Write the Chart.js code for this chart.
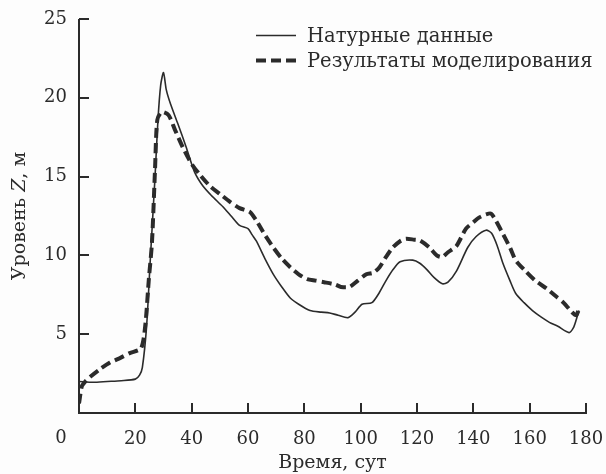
<!DOCTYPE html>
<html>
<head>
<meta charset="utf-8">
<script src="https://cdn.jsdelivr.net/npm/chart.js@4.4.1/dist/chart.umd.min.js"></script>
<style>
  html, body { margin: 0; padding: 0; background: #fdfdfd; }
  #wrap { width: 606px; height: 474px; }
</style>
</head>
<body>
<div id="wrap"><canvas id="levelChart"></canvas></div>
<script>
// натурные данные (сплошная)
const timeObs = [0, 5, 10, 15, 20, 21.5, 22.5, 24, 25.3, 27, 28, 29, 30, 31, 32.5, 35, 38, 41, 44, 47, 51, 54, 57, 60, 61.5, 63, 66, 69, 72, 75, 78, 82, 86, 89, 92, 95.5, 98, 100.5, 104, 106.5, 109, 111.5, 114, 118.5, 121, 123.5, 126, 129, 131, 134, 138, 141, 144.5, 146.5, 148.5, 150.5, 153, 155, 158, 161, 164, 167, 170, 174, 175.5, 176.5, 177.5]
const levelObs = [2.0, 1.95, 2.0, 2.05, 2.15, 2.4, 2.9, 5.5, 9.7, 15, 18.5, 20.8, 21.6, 20.5, 19.6, 18.4, 16.9, 15.3, 14.4, 13.8, 13.1, 12.5, 11.9, 11.7, 11.3, 10.9, 9.8, 8.8, 8.0, 7.3, 6.9, 6.5, 6.4, 6.35, 6.2, 6.05, 6.4, 6.9, 7.0, 7.6, 8.4, 9.1, 9.6, 9.7, 9.5, 9.1, 8.6, 8.2, 8.3, 9.0, 10.5, 11.2, 11.6, 11.4, 10.6, 9.5, 8.4, 7.6, 7.0, 6.5, 6.1, 5.75, 5.5, 5.1, 5.4, 5.9, 6.5]

// результаты моделирования (пунктир)
const timeModel = [0, 1, 2, 4, 7.6, 11, 14.7, 18, 22, 23.5, 24.8, 25.9, 27, 27.8, 29.4, 31.8, 34, 37, 40, 43, 46.5, 50, 53.6, 57, 60.7, 63, 66, 69, 72, 75, 78, 81, 84, 87, 91, 93, 96, 99, 102, 104.5, 106.7, 109, 111.4, 114, 116, 119, 121, 124.4, 127, 129, 131, 134, 137.4, 140, 142, 144.5, 146.3, 148, 150.4, 153, 155, 158, 162, 166, 169, 172, 175, 176.5, 177.5]
const levelModel = [0.6, 1.7, 1.95, 2.3, 2.8, 3.2, 3.5, 3.8, 4.1, 5.5, 8.5, 10.8, 15.5, 18.6, 19.1, 18.9, 18.0, 16.8, 15.8, 15.1, 14.4, 13.9, 13.4, 13.0, 12.75, 12.2, 11.3, 10.5, 9.8, 9.25, 8.8, 8.5, 8.4, 8.3, 8.15, 8.0, 8.0, 8.4, 8.8, 8.9, 9.25, 9.9, 10.5, 10.9, 11.05, 11.0, 10.95, 10.5, 10.0, 9.9, 10.2, 10.6, 11.7, 12.1, 12.4, 12.6, 12.65, 12.2, 11.4, 10.5, 9.7, 9.1, 8.4, 7.9, 7.45, 7.0, 6.4, 6.2, 6.6]

const legendLabels = ['Натурные данные', 'Результаты моделирования']
const xTicks = [0, 20, 40, 60, 80, 100, 120, 140, 160, 180]
const yTicks = [0, 5, 10, 15, 20, 25]

const ink = '#2b2b2b'
const serif = '"DejaVu Serif", "Liberation Serif", serif'
const fs = 18
const titleFs = 19
const legendFs = 19.5

function toPoints(xs, ys) {
  return xs.map((x, i) => ({ x: x, y: ys[i] }))
}

function noPad(s) {
  s.paddingLeft = 0
  s.paddingRight = 0
  s.paddingTop = 0
  s.paddingBottom = 0
}

// оси, засечки внутрь, подписи Y, "0" в углу, заголовок оси Y с курсивной Z и легенда
const extras = {
  id: 'extras',
  afterDraw(chart) {
    const c = chart.ctx
    const xs = chart.scales.x
    const ys = chart.scales.y
    const area = chart.chartArea
    const left = Math.round(area.left)
    const bottom = Math.round(area.bottom)

    c.save()
    c.fillStyle = ink
    // линии осей
    c.fillRect(left - 1, Math.round(area.top), 2, bottom - Math.round(area.top) + 1)
    c.fillRect(left - 1, bottom - 1, Math.round(area.right) - left + 2, 2)
    // засечки
    for (const v of yTicks) {
      if (v === 0) continue
      const py = Math.round(ys.getPixelForValue(v))
      c.fillRect(left, py - 1, 10, 2)
    }
    for (const v of xTicks) {
      if (v === 0) continue
      const px = Math.round(xs.getPixelForValue(v))
      c.fillRect(px - 1, bottom - 10, 2, 10)
    }

    // подписи оси Y
    c.font = fs + 'px ' + serif
    c.textAlign = 'right'
    c.textBaseline = 'middle'
    for (const v of yTicks) {
      if (v === 0) continue
      c.fillText(String(v), area.left - 12, ys.getPixelForValue(v))
    }

    c.textAlign = 'center'
    c.fillText('0', area.left - 18, 438)

    // ось Y
    const parts = [['Уровень ', titleFs + 'px ' + serif], ['Z', 'italic ' + titleFs + 'px ' + serif], [', м', titleFs + 'px ' + serif]]
    let total = 0
    parts.forEach((p) => { c.font = p[1]; total += c.measureText(p[0]).width })
    c.save()
    c.translate(20, (area.top + area.bottom) / 2)
    c.rotate(-Math.PI / 2)
    c.textAlign = 'left'
    let tx = -total / 2
    parts.forEach((p) => {
      c.font = p[1]
      c.fillText(p[0], tx, 0)
      tx += c.measureText(p[0]).width
    })
    c.restore()

    // легенда
    c.font = legendFs + 'px ' + serif
    c.strokeStyle = ink
    c.setLineDash([])
    c.lineWidth = 1.6
    c.beginPath()
    c.moveTo(256, 35.5)
    c.lineTo(296, 35.5)
    c.stroke()
    c.lineWidth = 4
    c.setLineDash([10, 5])
    c.beginPath()
    c.moveTo(256, 60.5)
    c.lineTo(298, 60.5)
    c.stroke()
    c.setLineDash([])
    c.textAlign = 'left'
    c.fillText(legendLabels[0], 307, 37)
    c.fillText(legendLabels[1], 307, 62)
    c.restore()
  }
}

new Chart(document.getElementById('levelChart'), {
  type: 'line',
  data: {
    datasets: [
      {
        label: legendLabels[0],
        data: toPoints(timeObs, levelObs),
        borderColor: ink,
        borderWidth: 1.6,
        pointRadius: 0,
        tension: 0.25,
        fill: false,
      },
      {
        label: legendLabels[1],
        data: toPoints(timeModel, levelModel),
        borderColor: ink,
        borderWidth: 4,
        borderDash: [10, 5],
        pointRadius: 0,
        tension: 0.25,
        fill: false,
      },
    ],
  },
  options: {
    responsive: true,
    maintainAspectRatio: false,
    animation: false,
    devicePixelRatio: 1,
    layout: { padding: { top: 19, right: 20, left: 0, bottom: 0 } },
    plugins: {
      legend: { display: false },
      tooltip: { enabled: false },
    },
    scales: {
      x: {
        type: 'linear',
        min: 0,
        max: 180,
        afterBuildTicks: (s) => { s.ticks = xTicks.map((v) => ({ value: v })) },
        afterFit: (s) => { s.height = 61; noPad(s) },
        ticks: {
          color: ink,
          font: { family: serif, size: fs },
          padding: 8,
          maxRotation: 0,
          callback: (v) => (v === 0 ? '' : v),
        },
        grid: { display: false },
        border: { display: false },
        title: {
          display: true,
          text: 'Время, сут',
          color: ink,
          font: { family: serif, size: titleFs },
          padding: { top: 0, bottom: 0 },
        },
      },
      y: {
        min: 0,
        max: 25,
        afterBuildTicks: (s) => { s.ticks = yTicks.map((v) => ({ value: v })) },
        afterFit: (s) => { s.width = 79; noPad(s) },
        ticks: { display: false },
        grid: { display: false },
        border: { display: false },
        title: { display: false },
      },
    },
  },
  plugins: [extras],
})
</script>
</body>
</html>
